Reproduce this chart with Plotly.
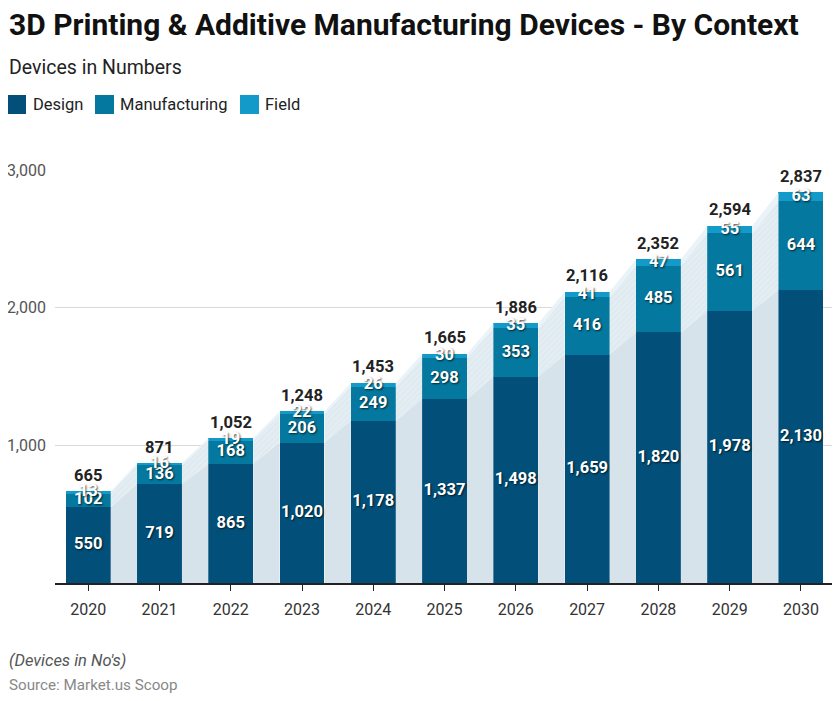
import plotly.graph_objects as go

years = ["2020", "2021", "2022", "2023", "2024", "2025", "2026", "2027", "2028", "2029", "2030"]
design = [550, 719, 865, 1020, 1178, 1337, 1498, 1659, 1820, 1978, 2130]
manufacturing = [102, 136, 168, 206, 249, 298, 353, 416, 485, 561, 644]
field = [13, 16, 19, 22, 26, 30, 35, 41, 47, 55, 63]
totals = [665, 871, 1052, 1248, 1453, 1665, 1886, 2116, 2352, 2594, 2837]
series_names = ["Design", "Manufacturing", "Field"]

C_DES = "#02507a"
C_MAN = "#04789f"
C_FLD = "#139ac8"
BAND_DES = "#d6e3ea"
BAND_MAN = "#e3edf2"
BAND_FLD = "#eaf3f7"

FONT = "Roboto"
W = 0.63
xs = list(range(len(years)))

# plot area geometry (reference pixels)
PL, PR, PT, PB = 55, 833, 170, 583
PW, PH = PR - PL, PB - PT


def px(x):
    return (x - PL) / PW


def py(y):
    return (PB - y) / PH


fig = go.Figure()


def band(lower, upper, color, pattern=False):
    bx, by = [], []
    for i in range(len(xs) - 1):
        x0 = xs[i] + W / 2
        x1 = xs[i + 1] - W / 2
        bx += [x0, x1, x1, x0, x0, None]
        by += [lower[i], lower[i + 1], upper[i + 1], upper[i], lower[i], None]
    kw = {}
    if pattern:
        kw["fillpattern"] = dict(shape="/", size=4, solidity=0.25, fgcolor="#d3e3eb", bgcolor=color)
    fig.add_trace(go.Scatter(x=bx, y=by, mode="lines", fill="toself", fillcolor=color,
                             line=dict(width=0), hoverinfo="skip", showlegend=False, **kw))


zero = [0] * len(xs)
dm = [d + m for d, m in zip(design, manufacturing)]
band(zero, design, BAND_DES)
band(design, dm, BAND_MAN, pattern=True)
band(dm, totals, BAND_FLD)

for name, vals, col in zip(series_names, [design, manufacturing, field], [C_DES, C_MAN, C_FLD]):
    fig.add_trace(go.Bar(x=xs, y=vals, width=W, marker=dict(color=col, line=dict(width=0)),
                         name=name, showlegend=False, hoverinfo="skip"))

shadow = "1px 1px 2px rgba(0,0,0,0.7)"
lbl_font = dict(family=FONT, size=16.5, color="white", weight="bold", shadow=shadow)


def fmt(v):
    return f"{v:,}"


mid_d = [d / 2 for d in design]
mid_m = [d + m / 2 for d, m in zip(design, manufacturing)]
mid_f = [a + f / 2 for a, f in zip(dm, field)]
for mids, vals in [(mid_d, design), (mid_m, manufacturing), (mid_f, field)]:
    fig.add_trace(go.Scatter(x=xs, y=mids, mode="text", text=[fmt(v) for v in vals],
                             textposition="middle center", textfont=lbl_font,
                             hoverinfo="skip", showlegend=False, cliponaxis=False))

annotations = []
for x, t in zip(xs, totals):
    annotations.append(dict(x=x, y=t, xref="x", yref="y", text=f"<b>{fmt(t)}</b>", showarrow=False,
                            yanchor="middle", yshift=16,
                            font=dict(family=FONT, size=16.5, color="#222222")))

# manual legend
legend_items = [("Design", C_DES, 7, 31), ("Manufacturing", C_MAN, 95, 118), ("Field", C_FLD, 240, 263)]
shapes = []
for name, col, sx, tx in legend_items:
    shapes.append(dict(type="rect", xref="paper", yref="paper", x0=px(sx), x1=px(sx + 19),
                       y0=py(114), y1=py(95), fillcolor=col, line=dict(width=0)))
    annotations.append(dict(text=name, xref="paper", yref="paper", x=px(tx), y=py(104),
                            xanchor="left", yanchor="middle", showarrow=False,
                            font=dict(family=FONT, size=16.5, color="#222222")))

annotations += [
    dict(text="<b>3D Printing & Additive Manufacturing Devices - By Context</b>", xref="paper", yref="paper",
         x=px(7), y=py(24), xanchor="left", yanchor="middle", showarrow=False,
         font=dict(family=FONT, size=30, color="#111111")),
    dict(text="Devices in Numbers", xref="paper", yref="paper", x=px(7), y=py(67),
         xanchor="left", yanchor="middle", showarrow=False,
         font=dict(family=FONT, size=19.5, color="#222222")),
    dict(text="<i>(Devices in No's)</i>", xref="paper", yref="paper", x=px(7), y=py(660),
         xanchor="left", yanchor="middle", showarrow=False,
         font=dict(family=FONT, size=16.5, color="#555555")),
    dict(text="Source: Market.us Scoop", xref="paper", yref="paper", x=px(7), y=py(685),
         xanchor="left", yanchor="middle", showarrow=False,
         font=dict(family=FONT, size=15.2, color="#888888")),
]

fig.update_layout(
    width=832, height=693,
    margin=dict(l=PL - 8, r=840 - PR, t=PT - 8, b=701 - PB, autoexpand=False),
    plot_bgcolor="white", paper_bgcolor="white",
    barmode="stack",
    font=dict(family=FONT, color="#333333"),
    showlegend=False,
    xaxis=dict(range=[-0.466, 10.45], tickmode="array", tickvals=xs, ticktext=years,
               showgrid=False, showline=True, linecolor="#222222", linewidth=2,
               ticks="outside", ticklen=6, tickcolor="#222222", tickwidth=1,
               ticklabelstandoff=5, automargin=False,
               tickfont=dict(family=FONT, size=16, color="#333333"), zeroline=False),
    yaxis=dict(range=[0, 3000], tickvals=[1000, 2000, 3000],
               tickformat=",", showgrid=True, gridcolor="#d9d9d9", gridwidth=1,
               zeroline=False, showline=False, ticks="", ticklabelstandoff=8, automargin=False,
               tickfont=dict(family=FONT, size=16, color="#555555")),
    annotations=annotations,
    shapes=shapes,
)

fig.write_html("out.html")
